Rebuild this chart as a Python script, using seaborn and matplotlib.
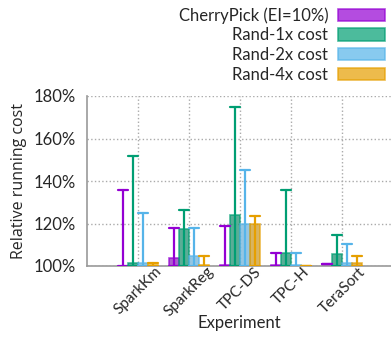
import seaborn as sns
import pandas as pd
import matplotlib.pyplot as plt
from matplotlib.patches import Patch
import numpy as np

categories = ["SparkKm", "SparkReg", "TPC-DS", "TPC-H", "TeraSort"]
series = ["CherryPick (EI=10%)", "Rand-1x cost", "Rand-2x cost", "Rand-4x cost"]

# bar value, lower and upper end of error bar (percent)
cherry_val = [100.2, 104.0, 100.3, 100.3, 101.1]
cherry_lo = [100, 100, 100, 100, 101.1]
cherry_hi = [136, 118, 118.8, 106, 101.1]

rand1_val = [101.3, 117.3, 123.9, 106, 105.8]
rand1_lo = [100, 100, 100, 100, 100]
rand1_hi = [152, 126.4, 175, 136, 114.8]

rand2_val = [101.3, 104.6, 120, 100.3, 101.6]
rand2_lo = [100, 100, 100, 100, 100]
rand2_hi = [125, 117.9, 145, 106, 110.5]

rand4_val = [100.5, 100.5, 120, 100, 101.2]
rand4_lo = [100, 100, 100, 100, 100]
rand4_hi = [101.4, 104.7, 123.4, 100, 104.7]

colors = ["#9400D3", "#009E73", "#56B4E9", "#E69F00"]

rows = []
for name, val, lo, hi in zip(series,
                             [cherry_val, rand1_val, rand2_val, rand4_val],
                             [cherry_lo, rand1_lo, rand2_lo, rand4_lo],
                             [cherry_hi, rand1_hi, rand2_hi, rand4_hi]):
    for i, c in enumerate(categories):
        for v in (lo[i], val[i], hi[i]):
            rows.append({"Experiment": c, "series": name, "cost": v})
df = pd.DataFrame(rows)

sns.set_theme(style="white")
plt.rcParams['font.family'] = ['Lato', 'DejaVu Sans']

fig = plt.figure(figsize=(3.91, 3.39), dpi=100)
ax = fig.add_axes([87 / 391, 1 - 266 / 339, (391 - 87) / 391, 170 / 339])

sns.barplot(data=df, x="Experiment", y="cost", hue="series",
            hue_order=series, order=categories, palette=colors,
            estimator="median", errorbar=lambda x: (x.min(), x.max()),
            capsize=0.8, err_kws={"linewidth": 1.6},
            alpha=0.7, width=0.8, linewidth=1.2, legend=False, ax=ax)

# edge colours of bars
for k, cont in enumerate(ax.containers):
    for bar in cont:
        bar.set_edgecolor(colors[k])

# error bar colours by dodge offset
offsets = [-0.3, -0.1, 0.1, 0.3]
for ln in ax.lines:
    xd = np.asarray(ln.get_xdata(), dtype=float)
    xd = xd[np.isfinite(xd)]
    if len(xd) == 0:
        continue
    xm = xd.mean()
    off = xm - round(xm)
    k = int(np.argmin([abs(off - o) for o in offsets]))
    ln.set_color(colors[k])
    ln.set_zorder(3)

ax.set_xlim(-1, 4.96)
ax.set_ylim(100, 180)
ax.set_yticks([100, 120, 140, 160, 180])
ax.set_yticklabels([f"{t}%" for t in [100, 120, 140, 160, 180]])
ax.grid(True, linestyle=":", color="#aaaaaa", linewidth=1)
ax.set_axisbelow(True)
for s in ["top", "right"]:
    ax.spines[s].set_visible(False)
for s in ["left", "bottom"]:
    ax.spines[s].set_color("#999999")
    ax.spines[s].set_linewidth(1.2)

ax.tick_params(axis="y", direction="in", length=3, color="#999999",
               labelsize=12, pad=8)
ax.tick_params(axis="x", length=0, labelsize=11, pad=-1)
plt.setp(ax.get_xticklabels(), rotation=45, ha="center", va="top")

ax.set_xlabel("Experiment", fontsize=12, labelpad=-3)
ax.set_ylabel("Relative running cost", fontsize=11.5,
              family=["Open Sans", "DejaVu Sans"], labelpad=5)

handles = [Patch(facecolor=c, edgecolor=c, alpha=0.7, linewidth=1.2) for c in colors]
fig.legend(handles, series, loc="upper right", bbox_to_anchor=(385 / 391, 1 - 7 / 339),
           frameon=False, markerfirst=False, fontsize=12, borderpad=0,
           borderaxespad=0, handlelength=2.8, handleheight=0.75,
           labelspacing=0.22, handletextpad=0.6)

fig.savefig("out.png", dpi=100)
